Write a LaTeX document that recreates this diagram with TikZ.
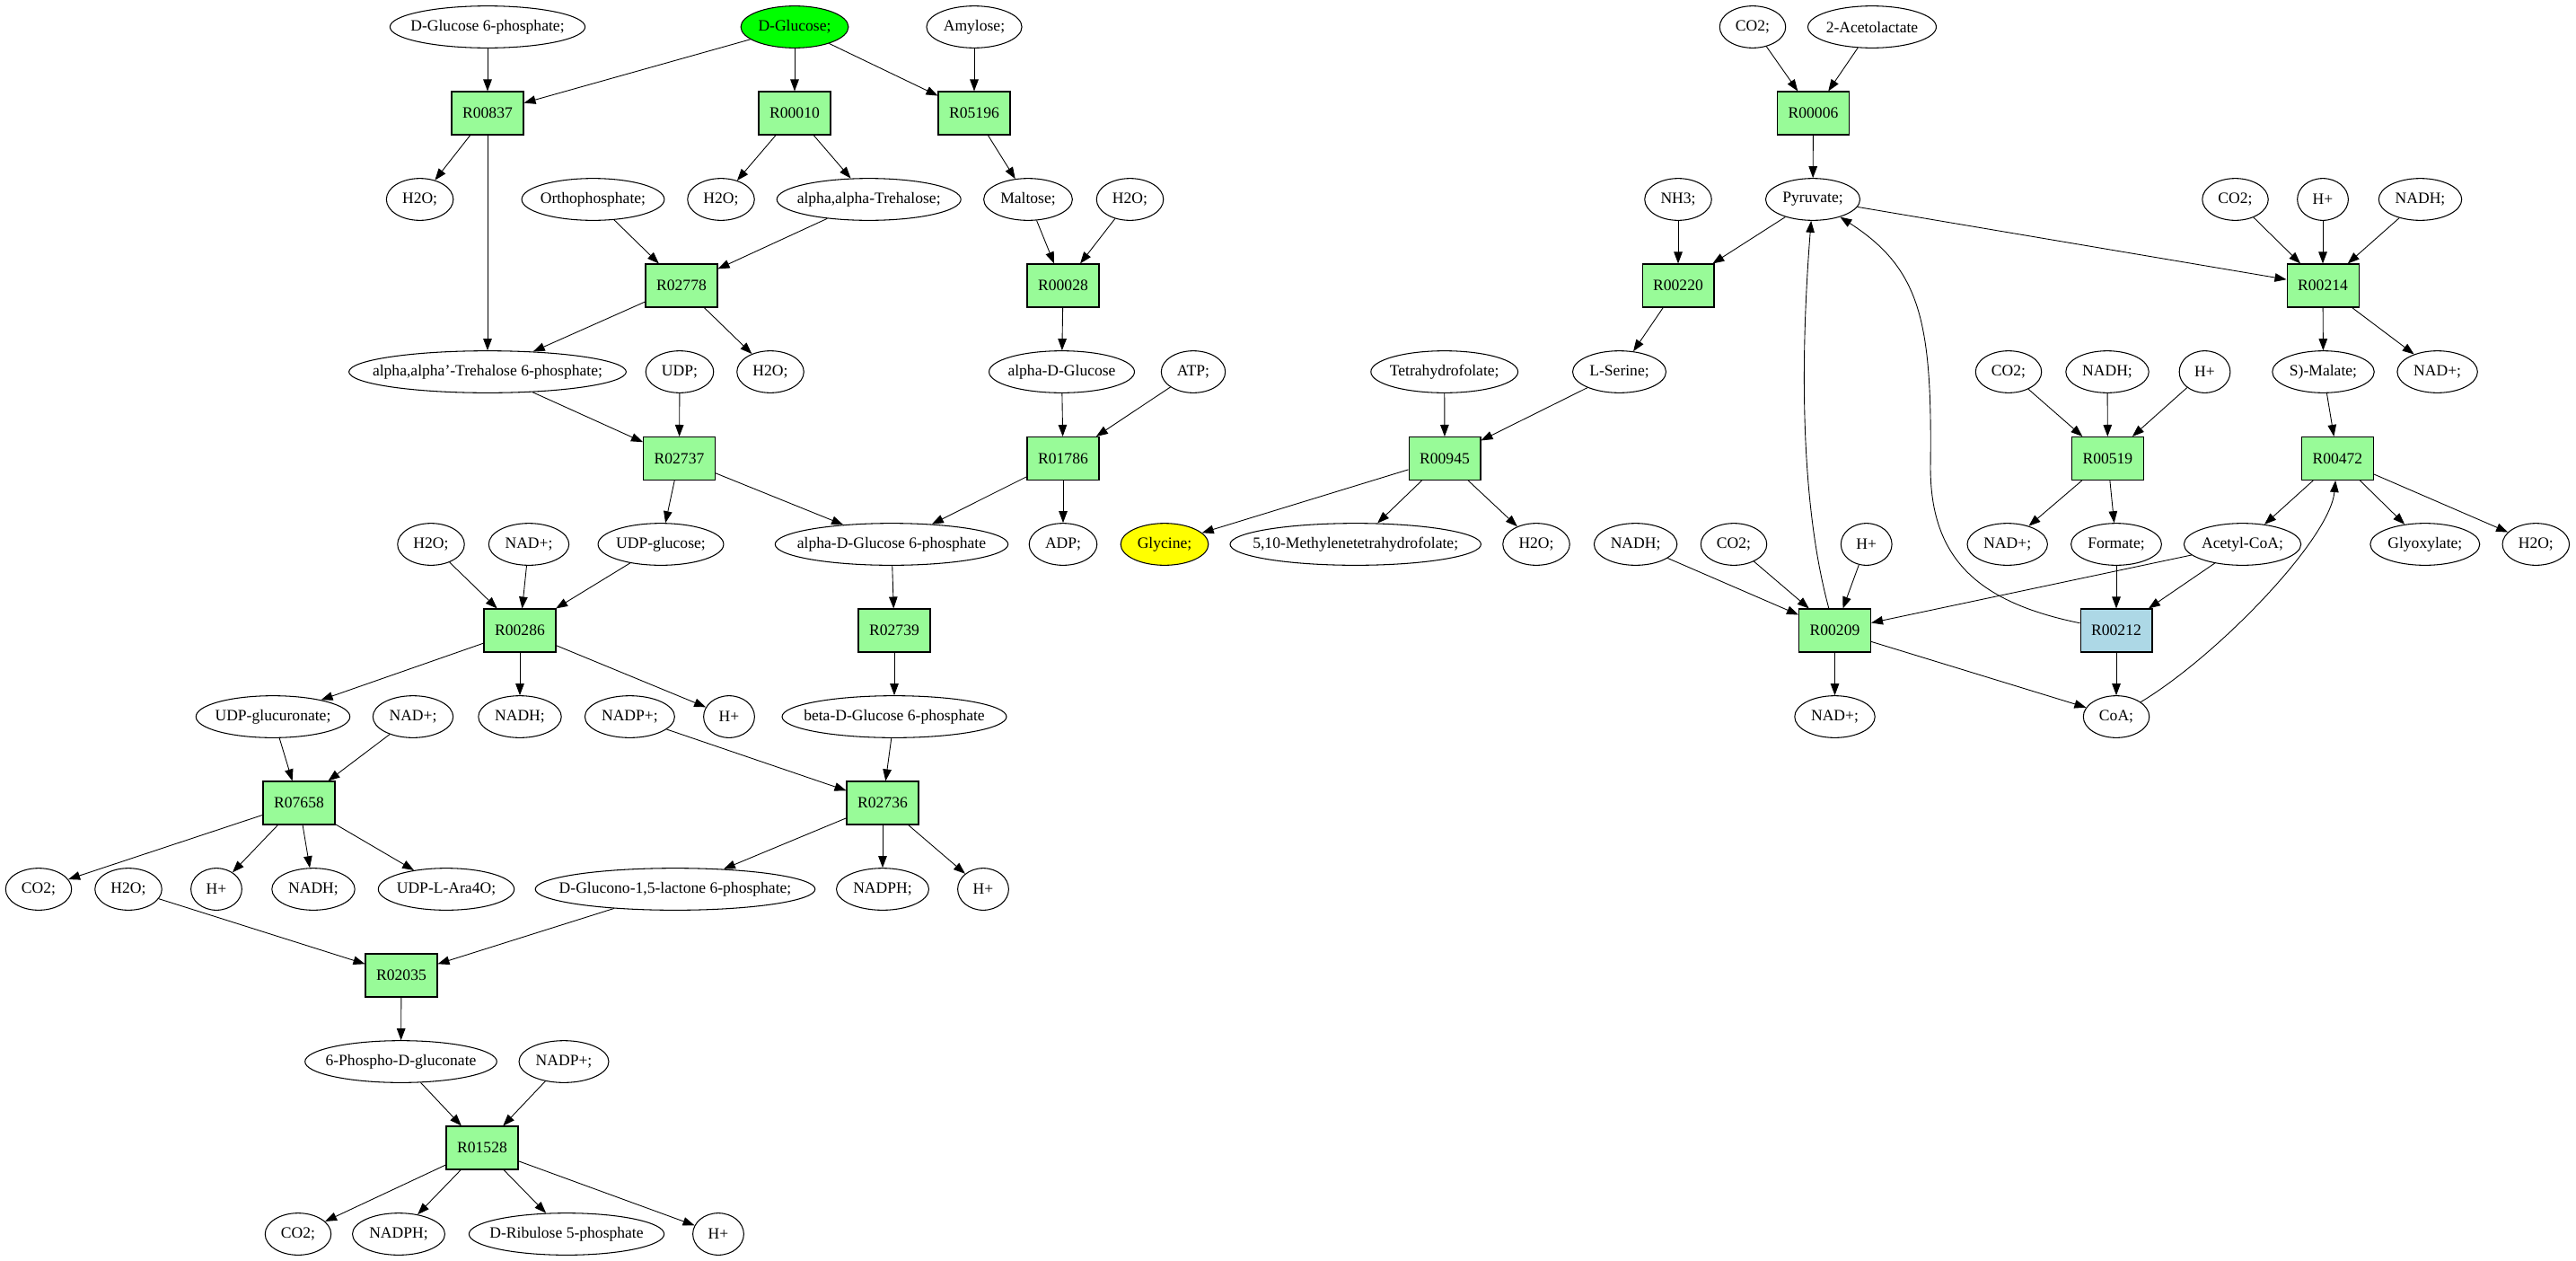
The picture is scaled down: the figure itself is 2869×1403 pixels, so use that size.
\documentclass[tikz,border=0pt]{standalone}
\usepackage{fontspec}
\setmainfont{Liberation Serif}
\usetikzlibrary{arrows.meta,shapes.geometric}
\definecolor{rxngreen}{RGB}{152,251,152}
\definecolor{rxnblue}{RGB}{173,216,230}
\definecolor{glcgreen}{RGB}{0,255,0}
\definecolor{glyyellow}{RGB}{255,255,0}
\newlength\cpdw
\tikzset{
    cpd/.style={draw, ellipse, line width=0.6pt, inner xsep=-12pt, inner ysep=0pt, minimum height=0.934cm},
    rxn/.style={draw, rectangle, line width=0.6pt, fill=rxngreen, minimum width=1.6cm, minimum height=0.96cm, inner sep=0pt},
    arr/.style={line width=0.5pt, -{Triangle[length=0.26cm,width=0.19cm]}}
}
% compound: ellipse as wide as its label
\newcommand\cpd[4][]{\pgfmathsetlength\cpdw{width("#4")}%
    \node[cpd,#1,minimum width=1.08\cpdw+18.4pt] (#2) at (#3) {#4};}
% reaction: box named by its code
\newcommand\rxn[3][]{\node[rxn,#1] (#2) at (#3) {#2};}
\begin{document}
\begin{tikzpicture}[x=0.02cm,y=-0.02cm]
    \useasboundingbox (0,0) rectangle (2869,1403);
    % row 0
    \cpd{gsixp}{543,30}{D-Glucose 6-phosphate;}
    \cpd[fill=glcgreen]{glc}{885,30}{D-Glucose;}
    \cpd{amy}{1085,30}{Amylose;}
    \cpd{co2a}{1952,30}{CO2;}
    \cpd{acl}{2085,30}{2-Acetolactate}
    % row 1
    \rxn{R00837}{543,126}
    \rxn{R00010}{885,126}
    \rxn{R05196}{1085,126}
    \rxn{R00006}{2019.5,126}
    % row 2
    \cpd{h2oa}{467.6,222}{H2O;}
    \cpd{ortho}{660.5,222}{Orthophosphate;}
    \cpd{h2ob}{803,222}{H2O;}
    \cpd{treh}{967.7,222}{alpha,alpha-Trehalose;}
    \cpd{malt}{1145,222}{Maltose;}
    \cpd{h2oc}{1258.5,222}{H2O;}
    \cpd{nh3}{1869,222}{NH3;}
    \cpd{pyr}{2019,222}{Pyruvate;}
    \cpd{co2b}{2489.5,222}{CO2;}
    \cpd{hpa}{2587,222}{H+}
    \cpd{nadha}{2695.5,222}{NADH;}
    % row 3
    \rxn{R02778}{759,318}
    \rxn{R00028}{1184,318}
    \rxn{R00220}{1869,318}
    \rxn{R00214}{2587,318}
    % row 4
    \cpd{trehp}{543,414}{alpha,alpha'-Trehalose 6-phosphate;}
    \cpd{udp}{757,414}{UDP;}
    \cpd{h2od}{858,414}{H2O;}
    \cpd{adglc}{1182.5,414}{alpha-D-Glucose}
    \cpd{atp}{1329,414}{ATP;}
    \cpd{thf}{1608.7,414}{Tetrahydrofolate;}
    \cpd{ser}{1803.5,414}{L-Serine;}
    \cpd{co2c}{2237,414}{CO2;}
    \cpd{nadhb}{2347,414}{NADH;}
    \cpd{hpb}{2455.5,414}{H+}
    \cpd{mal}{2587.5,414}{S)-Malate;}
    \cpd{nada}{2714.6,414}{NAD+;}
    % row 5
    \rxn{R02737}{756.5,510.5}
    \rxn{R01786}{1184,510.5}
    \rxn{R00945}{1609,510.5}
    \rxn{R00519}{2347.4,510.5}
    \rxn{R00472}{2603.4,510.5}
    % row 6
    \cpd{h2oe}{480,606}{H2O;}
    \cpd{nadb}{589,606}{NAD+;}
    \cpd{udpg}{736,606}{UDP-glucose;}
    \cpd{adg6p}{993,606}{alpha-D-Glucose 6-phosphate}
    \cpd{adp}{1184,606}{ADP;}
    \cpd[fill=glyyellow]{gly}{1297,606}{Glycine;}
    \cpd{mthf}{1509.7,606}{5,10-Methylenetetrahydrofolate;}
    \cpd{h2of}{1711,606}{H2O;}
    \cpd{nadhc}{1821.6,606}{NADH;}
    \cpd{co2d}{1931,606}{CO2;}
    \cpd{hpc}{2078.7,606}{H+}
    \cpd{nadc}{2235.7,606}{NAD+;}
    \cpd{form}{2357,606}{Formate;}
    \cpd{acoa}{2497.5,606}{Acetyl-CoA;}
    \cpd{glx}{2700.8,606}{Glyoxylate;}
    \cpd{h2og}{2824.3,606}{H2O;}
    % row 7
    \rxn{R00286}{579,702}
    \rxn{R02739}{996,702}
    \rxn{R00209}{2043.5,702}
    \rxn[fill=rxnblue]{R00212}{2357,702}
    % row 8
    \cpd{udpgr}{304,798}{UDP-glucuronate;}
    \cpd{nadd}{460,798}{NAD+;}
    \cpd{nadhd}{579,798}{NADH;}
    \cpd{nadpa}{701.4,798}{NADP+;}
    \cpd{hpd}{812,798}{H+}
    \cpd{bdg6p}{996,798}{beta-D-Glucose 6-phosphate}
    \cpd{nade}{2043.5,798}{NAD+;}
    \cpd{coa}{2357,798}{CoA;}
    % row 9
    \rxn{R07658}{333,894}
    \rxn{R02736}{983,894}
    % row 10
    \cpd{co2e}{43,990}{CO2;}
    \cpd{h2oh}{143,990}{H2O;}
    \cpd{hpe}{241,990}{H+}
    \cpd{nadhe}{349,990}{NADH;}
    \cpd{udpara}{497,990}{UDP-L-Ara4O;}
    \cpd{gdl}{752,990}{D-Glucono-1,5-lactone 6-phosphate;}
    \cpd{nadpha}{983,990}{NADPH;}
    \cpd{hpf}{1095,990}{H+}
    % rows 11-14
    \rxn{R02035}{447,1086}
    \cpd{pgl}{446.5,1182}{6-Phospho-D-gluconate}
    \cpd{nadpb}{628,1182}{NADP+;}
    \rxn{R01528}{537,1278}
    \cpd{co2f}{332,1374}{CO2;}
    \cpd{nadphb}{444,1374}{NADPH;}
    \cpd{rib}{631,1374}{D-Ribulose 5-phosphate}
    \cpd{hpg}{800,1374}{H+}
    % straight edges, left part
    \foreach \a/\b in {gsixp/R00837, glc/R00837, glc/R00010, glc/R05196, amy/R05196,
        R00837/h2oa, R00837/trehp, R00010/h2ob, R00010/treh, R05196/malt,
        ortho/R02778, treh/R02778, malt/R00028, h2oc/R00028,
        R02778/trehp, R02778/h2od, R00028/adglc,
        trehp/R02737, udp/R02737, adglc/R01786, atp/R01786,
        R02737/udpg, R02737/adg6p, R01786/adg6p, R01786/adp,
        h2oe/R00286, nadb/R00286, udpg/R00286, adg6p/R02739,
        R00286/udpgr, R00286/nadhd, R00286/hpd, R02739/bdg6p,
        udpgr/R07658, nadd/R07658, nadpa/R02736, bdg6p/R02736,
        R07658/co2e, R07658/hpe, R07658/nadhe, R07658/udpara,
        R02736/gdl, R02736/nadpha, R02736/hpf,
        h2oh/R02035, gdl/R02035, R02035/pgl, pgl/R01528, nadpb/R01528,
        R01528/co2f, R01528/nadphb, R01528/rib, R01528/hpg} {
        \draw[arr] (\a) -- (\b);
    }
    % straight edges, right part
    \foreach \a/\b in {co2a/R00006, acl/R00006, R00006/pyr, nh3/R00220, pyr/R00220,
        pyr/R00214, co2b/R00214, hpa/R00214, nadha/R00214,
        R00220/ser, R00214/mal, R00214/nada, thf/R00945, ser/R00945,
        co2c/R00519, nadhb/R00519, hpb/R00519, mal/R00472,
        R00945/gly, R00945/mthf, R00945/h2of, R00519/nadc, R00519/form,
        R00472/acoa, R00472/glx, R00472/h2og,
        nadhc/R00209, co2d/R00209, hpc/R00209, acoa/R00209, acoa/R00212, form/R00212,
        R00209/nade, R00209/coa, R00212/coa} {
        \draw[arr] (\a) -- (\b);
    }
    % curved edges
    \draw[arr] (R00209) .. controls (2005,560) and (2005,400) .. (pyr);
    \draw[arr] (R00212) .. controls (2200,670) and (2150,620) .. (2150,520)
        .. controls (2152,360) and (2140,300) .. (pyr);
    \draw[arr] (coa) .. controls (2470,730) and (2595,600) .. (R00472);
\end{tikzpicture}
\end{document}
